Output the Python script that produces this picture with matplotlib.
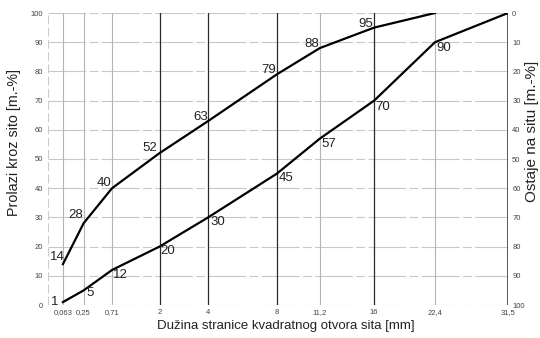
import numpy as np
import matplotlib
matplotlib.use("Agg")
import matplotlib.pyplot as plt

plt.rcParams['font.family'] = ['Liberation Sans', 'DejaVu Sans']

sieves = [0.063, 0.25, 0.71, 2, 4, 8, 11.2, 16, 22.4, 31.5]
sieve_labels = ["0,063", "0,25", "0,71", "2", "4", "8", "11,2", "16", "22,4", "31,5"]
upper_x = [0.063, 0.25, 0.71, 2, 4, 8, 11.2, 16, 22.4]
upper_y = [14, 28, 40, 52, 63, 79, 88, 95, 100]
lower_x = [0.063, 0.25, 0.71, 2, 4, 8, 11.2, 16, 22.4, 31.5]
lower_y = [1, 5, 12, 20, 30, 45, 57, 70, 90, 100]
upper_shown = [14, 28, 40, 52, 63, 79, 88, 95]
lower_shown = [1, 5, 12, 20, 30, 45, 57, 70, 90]
strong = [2, 4, 8, 16]

fig = plt.figure(figsize=(5.4, 3.38), dpi=100)
ax = fig.add_axes([48 / 540, 1 - 305 / 338, 460 / 540, 292 / 338])
ax.set_xscale('function', functions=(lambda v: np.sqrt(np.clip(v, 0, None)), lambda v: v**2))
ax.set_xlim((np.sqrt(0.063) - 0.18) ** 2, 31.5)
ax.set_ylim(0, 100)

for y in range(0, 101, 10):
    ax.axhline(y, color='#c8c8c8', lw=0.8, ls=(0, (34, 3, 8, 3)), zorder=1)
ax.axvline(ax.get_xlim()[0], color='#cccccc', lw=0.8, ls=(0, (8, 3)), zorder=1)
for s in sieves:
    if s in strong:
        ax.axvline(s, color='#2a2a2a', lw=0.9, zorder=2)
    elif s == 31.5:
        ax.axvline(s, color='#2a2a2a', lw=1.1, zorder=2)
    else:
        ax.axvline(s, color='#b4b4b4', lw=0.8, zorder=1)

for sp in ax.spines.values():
    sp.set_visible(False)

ax.plot(upper_x, upper_y, color='black', lw=1.6, zorder=3)
ax.plot(lower_x, lower_y, color='black', lw=1.6, zorder=3)

# label offsets in pixels (dx, dy up)
px = 72 / 100
up_off = {14: (-6, 7), 28: (-8, 8), 40: (-8, 5), 52: (-10, 5), 63: (-7, 4),
          79: (-8, 4), 88: (-8, 4), 95: (-8, 4)}
lo_off = {1: (-8, 0), 5: (6, -3), 12: (8, -5), 20: (8, -4), 30: (10, -5),
          45: (9, -4), 57: (9, -5), 70: (9, -6), 90: (9, -6)}
for x, y in zip(upper_x, upper_y):
    if y in upper_shown:
        dx, dy = up_off[y]
        ax.annotate(str(y), (x, y), xytext=(dx * px, dy * px), textcoords='offset points',
                    fontsize=9.5, ha='center', va='center', color='#222222', zorder=4)
for x, y in zip(lower_x, lower_y):
    if y in lower_shown:
        dx, dy = lo_off[y]
        ax.annotate(str(y), (x, y), xytext=(dx * px, dy * px), textcoords='offset points',
                    fontsize=9.5, ha='center', va='center', color='#222222', zorder=4)

ax.set_xticks(sieves)
ax.set_xticklabels(sieve_labels)
ax.xaxis.set_minor_locator(matplotlib.ticker.NullLocator())
ax.set_yticks(range(0, 101, 10))
ax.tick_params(axis='both', length=0, labelsize=5.5, colors='#444444')
ax.tick_params(axis='x', pad=3)
ax.tick_params(axis='y', pad=3.5)

ax2 = ax.twinx()
ax2.set_ylim(100, 0)
ax2.set_yticks(range(0, 101, 10))
ax2.tick_params(axis='y', length=0, labelsize=5.5, colors='#444444', pad=3)
for sp in ax2.spines.values():
    sp.set_visible(False)

ax.set_xlabel("Dužina stranice kvadratnog otvora sita [mm]", fontsize=9.5, color='#222222',
              va='center', ha='center')
ax.xaxis.set_label_coords((286 - 48) / 460, (305 - 326) / 292)
ax.set_ylabel("Prolazi kroz sito [m.-%]", fontsize=10.3, color='#222222',
              va='center', ha='center')
ax.yaxis.set_label_coords((14 - 48) / 460, (305 - 143) / 292)
ax2.set_ylabel("Ostaje na situ [m.-%]", fontsize=11, color='#222222',
               va='center', ha='center')
ax2.yaxis.set_label_coords((532 - 48) / 460, (305 - 131) / 292)

fig.savefig("out.png", dpi=100)
